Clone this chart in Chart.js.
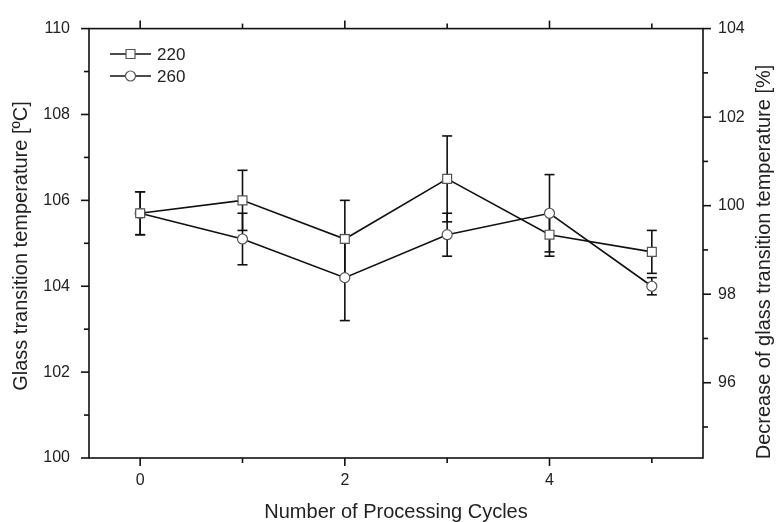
<!DOCTYPE html>
<html>
<head>
<meta charset="utf-8">
<script src="https://cdn.jsdelivr.net/npm/chart.js@4.4.1/dist/chart.umd.min.js"></script>
<style>
  html, body { margin: 0; padding: 0; background: #fff; }
</style>
</head>
<body>
<canvas id="tgChart" width="778" height="522"></canvas>
<script>
// values
const cycles = [0, 1, 2, 3, 4, 5];
const tg220 = [105.7, 106.0, 105.1, 106.5, 105.2, 104.8];
const err220 = [0.5, 0.7, 0.9, 1.0, 0.5, 0.5];
const tg260 = [105.7, 105.1, 104.2, 105.2, 105.7, 104.0];
const err260 = [0.5, 0.6, 1.0, 0.5, 0.9, 0.2];
const xLabels = [0, 2, 4];
const yLabels = [100, 102, 104, 106, 108, 110];
const y2Labels = [96, 98, 100, 102, 104];

const xTitle = "Number of Processing Cycles";
const yTitle = "Glass transition temperature [ºC]";
const y2Title = "Decrease of glass transition temperature [%]";

const FONT = "'Liberation Sans', Arial, sans-serif";
const INK = "#111";
const TEXT = "#222";

function pts(ys) {
    return cycles.map((c, i) => ({ x: c, y: ys[i] }));
}

function seg(ctx, x1, y1, x2, y2) {
    ctx.beginPath();
    ctx.moveTo(x1, y1);
    ctx.lineTo(x2, y2);
    ctx.stroke();
}

const errorBars = {
    id: "errorBars",
    beforeDatasetsDraw(chart) {
        const { ctx, scales } = chart;
        ctx.save();
        ctx.strokeStyle = INK;
        ctx.lineWidth = 1.6;
        chart.data.datasets.forEach(ds => {
            ds.data.forEach((p, i) => {
                const e = ds.errors[i];
                const px = scales.x.getPixelForValue(p.x);
                const top = scales.y.getPixelForValue(p.y + e);
                const bot = scales.y.getPixelForValue(p.y - e);
                seg(ctx, px, top, px, bot);
                seg(ctx, px - 5, top, px + 5, top);
                seg(ctx, px - 5, bot, px + 5, bot);
            });
        });
        ctx.restore();
    }
};

const frameTicks = {
    id: "frameTicks",
    afterDraw(chart) {
        const { ctx, chartArea: a, scales } = chart;
        ctx.save();
        ctx.strokeStyle = INK;
        ctx.lineWidth = 1.6;
        ctx.strokeRect(a.left, a.top, a.right - a.left, a.bottom - a.top);

        for (let v = Math.ceil(scales.x.min); v <= scales.x.max; v++) {
            const px = scales.x.getPixelForValue(v);
            const len = xLabels.includes(v) ? 8 : 5;
            seg(ctx, px, a.bottom, px, a.bottom + len);
            seg(ctx, px, a.top, px, a.top - len);
        }
        for (let v = Math.ceil(scales.y.min); v <= scales.y.max; v++) {
            const py = scales.y.getPixelForValue(v);
            const len = yLabels.includes(v) ? 8 : 5;
            seg(ctx, a.left - len, py, a.left, py);
        }
        for (let v = Math.ceil(scales.y2.min); v <= scales.y2.max; v++) {
            const py = scales.y2.getPixelForValue(v);
            const len = y2Labels.includes(v) ? 8 : 5;
            seg(ctx, a.right, py, a.right + len, py);
        }

        // axis titles (both vertical ones read bottom-to-top)
        ctx.fillStyle = TEXT;
        ctx.font = "20px " + FONT;
        ctx.textAlign = "center";
        ctx.textBaseline = "middle";
        ctx.fillText(xTitle, (a.left + a.right) / 2, 512);

        ctx.save();
        ctx.translate(21, 246);
        ctx.rotate(-Math.PI / 2);
        ctx.fillText(yTitle, 0, 0);
        ctx.restore();

        ctx.save();
        ctx.translate(764, 262);
        ctx.rotate(-Math.PI / 2);
        ctx.fillText(y2Title, 0, 0);
        ctx.restore();

        ctx.restore();
    }
};

const lineLegend = {
    id: "lineLegend",
    afterDraw(chart) {
        const ctx = chart.ctx;
        ctx.save();
        ctx.font = "17px " + FONT;
        ctx.textBaseline = "middle";
        chart.data.datasets.forEach((ds, i) => {
            const y = 54 + i * 22;
            ctx.strokeStyle = INK;
            ctx.lineWidth = 1.6;
            seg(ctx, 110, y, 151, y);
            ctx.fillStyle = "#fff";
            ctx.strokeStyle = "#555";
            ctx.lineWidth = 1.2;
            ctx.beginPath();
            if (ds.pointStyle === "rect") {
                ctx.rect(126, y - 4.5, 9, 9);
            } else {
                ctx.arc(130.5, y, 5, 0, Math.PI * 2);
            }
            ctx.fill();
            ctx.stroke();
            ctx.fillStyle = TEXT;
            ctx.fillText(ds.label, 157, y + 1);
        });
        ctx.restore();
    }
};

const ctx = document.getElementById("tgChart");

const chart = new Chart(ctx, {
    type: "line",
    data: {
        datasets: [
            {
                label: "220",
                data: pts(tg220),
                errors: err220,
                borderColor: INK,
                borderWidth: 1.6,
                pointStyle: "rect",
                pointRadius: 6.3,
                pointBackgroundColor: "#fff",
                pointBorderColor: "#555",
                pointBorderWidth: 1.2,
                tension: 0
            },
            {
                label: "260",
                data: pts(tg260),
                errors: err260,
                borderColor: INK,
                borderWidth: 1.6,
                pointStyle: "circle",
                pointRadius: 5,
                pointBackgroundColor: "#fff",
                pointBorderColor: "#555",
                pointBorderWidth: 1.2,
                tension: 0
            }
        ]
    },
    options: {
        responsive: false,
        animation: false,
        devicePixelRatio: 1,
        layout: { padding: { top: 22, left: 0, right: 0, bottom: 0 } },
        plugins: {
            legend: { display: false },
            tooltip: { enabled: false }
        },
        scales: {
            x: {
                type: "linear",
                min: -0.5,
                max: 5.5,
                afterFit: s => { s.height = 64; },
                afterBuildTicks: s => { s.ticks = cycles.map(v => ({ value: v })); },
                grid: { display: false, drawTicks: false },
                border: { display: false },
                ticks: {
                    autoSkip: false,
                    maxRotation: 0,
                    padding: 13,
                    color: TEXT,
                    font: { family: FONT, size: 16 },
                    callback: v => xLabels.includes(v) ? String(v) : ""
                }
            },
            y: {
                position: "left",
                min: 100,
                max: 110,
                afterFit: s => { s.width = 89; },
                grid: { display: false, drawTicks: false },
                border: { display: false },
                ticks: {
                    stepSize: 1,
                    autoSkip: false,
                    padding: 19,
                    color: TEXT,
                    font: { family: FONT, size: 16 },
                    callback: v => yLabels.includes(v) ? String(v) : ""
                }
            },
            y2: {
                position: "right",
                min: 94.3,
                max: 104,
                afterFit: s => { s.width = 75; },
                grid: { display: false, drawTicks: false },
                border: { display: false },
                ticks: {
                    stepSize: 1,
                    autoSkip: false,
                    padding: 15,
                    color: TEXT,
                    font: { family: FONT, size: 16 },
                    callback: v => y2Labels.includes(v) ? String(v) : ""
                }
            }
        }
    },
    plugins: [errorBars, frameTicks, lineLegend]
});
</script>
</body>
</html>
